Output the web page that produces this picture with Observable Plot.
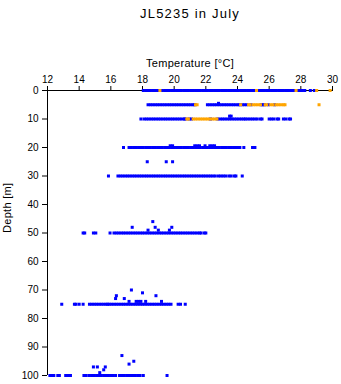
<!DOCTYPE html>
<html>
<head>
<meta charset="utf-8">
<script src="https://cdn.jsdelivr.net/npm/d3@7"></script>
<script src="https://cdn.jsdelivr.net/npm/@observablehq/plot@0.6"></script>
<style>
  html, body { margin: 0; padding: 0; background: #fff; }
  svg { display: block; }
</style>
</head>
<body>
<div id="chart"></div>
<script>
const title = "JL5235 in July";
const xLabel = "Temperature [°C]";
const yLabel = "Depth [m]";
const xTicks = [12, 14, 16, 18, 20, 22, 24, 26, 28, 30];
const yTicks = [0, 10, 20, 30, 40, 50, 60, 70, 80, 90, 100];

// Blue profiles: temperatures observed at each standard depth
const blue0 = [18.05,18.2,18.35,18.5,18.65,18.8,18.95,19.1,19.25,19.4,19.55,19.7,19.85,20.0,20.15,20.3,20.45,20.6,20.75,20.9,21.05,21.2,21.35,21.5,21.65,21.8,21.95,22.1,22.25,22.4,22.55,22.7,22.85,23.0,23.15,23.3,23.45,23.6,23.75,23.9,24.05,24.2,24.35,24.5,24.65,24.8,24.95,25.1,25.25,25.4,25.55,25.7,25.85,26.0,26.15,26.3,26.45,26.6,26.75,26.9,27.05,27.2,27.35,27.5,27.65,27.8,27.95,28.1,28.25,28.6,28.85];
const blue5 = [18.35,18.5,18.65,18.8,18.95,19.1,19.25,19.4,19.55,19.7,19.85,20.0,20.15,20.3,20.45,20.6,20.75,20.9,21.05,21.2,21.3,22.1,22.25,22.4,22.55,22.7,22.85,23.0,23.15,23.3,23.45,23.6,23.75,23.9,24.05,24.15,24.3,24.45,24.6,24.85,25.5,25.6,25.7,25.95,26.35];
const blue10 = [17.9,18.1,18.25,18.4,18.55,18.7,18.85,19.0,19.15,19.3,19.45,19.6,19.75,19.9,20.05,20.2,20.35,20.5,20.65,20.7,20.95,21.1,22.3,22.75,22.9,23.05,23.2,23.35,23.5,23.65,23.8,23.95,24.1,24.25,24.4,24.5,24.65,24.8,24.95,25.1,25.25,25.45,25.55,26.0,26.15,26.3,26.5,26.6,26.9,27.05,27.25,27.35];
const blue20 = [16.8,17.15,17.3,17.45,17.6,17.75,17.9,18.05,18.2,18.35,18.5,18.65,18.8,18.95,19.1,19.25,19.4,19.55,19.7,19.85,20.0,20.15,20.3,20.45,20.6,20.75,20.9,21.05,21.2,21.35,21.5,21.65,21.8,21.95,22.1,22.25,22.4,22.55,22.7,22.85,23.0,23.15,23.3,23.45,23.6,23.75,23.9,24.05,24.15,24.4,24.95,25.1];
const blue25 = [18.3,19.5,19.9];
const blue30 = [15.85,16.45,16.6,16.75,16.9,17.05,17.2,17.35,17.5,17.65,17.8,17.95,18.1,18.25,18.4,18.55,18.7,18.85,19.0,19.15,19.3,19.45,19.6,19.75,19.9,20.05,20.2,20.35,20.5,20.65,20.8,20.95,21.1,21.25,21.4,21.55,21.7,21.85,22.0,22.15,22.3,22.45,22.6,22.8,22.95,23.1,23.25,23.45,23.6,23.8,23.9,24.3];
const blue50 = [14.25,14.35,14.9,15.05,15.95,16.2,16.35,16.5,16.65,16.8,16.95,17.1,17.25,17.4,17.55,17.7,17.85,18.0,18.15,18.3,18.45,18.6,18.75,18.9,19.05,19.2,19.35,19.5,19.65,19.8,19.95,20.1,20.25,20.4,20.55,20.7,20.85,21.0,21.15,21.3,21.45,21.6,21.7,21.9,22.0];
const blue75 = [12.9,13.7,13.8,14.0,14.25,14.65,14.8,14.95,15.1,15.25,15.4,15.55,15.7,15.8,15.9,16.05,16.2,16.35,16.5,16.65,16.8,16.95,17.1,17.25,17.4,17.55,17.7,17.85,18.0,18.15,18.3,18.45,18.6,18.75,18.9,19.05,19.2,19.35,19.5,19.65,19.8,20.25,20.4,20.7];
const blue100 = [12.15,12.3,12.4,12.65,12.75,13.15,13.3,13.45,14.3,14.45,14.65,14.8,14.95,15.1,15.25,15.4,15.55,15.7,15.85,16.0,16.15,16.3,16.55,16.7,16.85,17.0,17.15,17.25,17.4,17.55,17.7,17.85,18.05,19.55];
// Blue scattered points off the standard depths: [depth, temperature]
const blueExtra = [[4.5,22.8],[9,23.5],[9,23.6],[19.4,19.75],[19.4,19.9],[19.4,21.3],[19.4,21.45],[19.4,21.6],[19.4,21.95],[19.4,22.25],[19.4,22.4],[19.4,22.55],
  [48,17.35],[46,18.65],[48,18.8],[49,18.35],[49,19.0],[49,19.7],[48,19.85],
  [72,16.35],[73,16.3],[73,16.85],[70,17.3],[74,17.15],[74,17.6],[74,17.75],[74,17.9],[71,18.0],[74,18.2],[72,18.85],[74,19.2],
  [93,16.7],[96,17.15],[95,17.45],[97,14.9],[97,15.15],[99,15.3],[98,15.55],[97,15.65]];

// Orange profile
const orange0 = [19.1,25.2,27.7,29.0,29.85];
const orange5 = [21.35,21.45,24.2,24.7,24.8,25.0,25.15,25.3,25.45,25.75,25.85,26.1,26.25,26.45,26.6,26.75,26.9,27.0,29.15];
const orange10 = [20.8,20.9,21.2,21.35,21.5,21.65,21.8,21.95,22.1,22.25,22.4,22.55,22.7];

const rows = (d, temps) => temps.map(t => ({d, t}));
const blueData = [
  ...rows(0, blue0), ...rows(5, blue5), ...rows(10, blue10), ...rows(20, blue20),
  ...rows(25, blue25), ...rows(30, blue30), ...rows(50, blue50), ...rows(75, blue75),
  ...rows(100, blue100), ...blueExtra.map(([d, t]) => ({d, t}))
];
const orangeData = [...rows(0, orange0), ...rows(5, orange5), ...rows(10, orange10)];

const font = "'Liberation Sans', Arial, Helvetica, sans-serif";

const chart = Plot.plot({
  width: 341,
  height: 384,
  marginTop: 90,
  marginLeft: 47,
  marginRight: 9,
  marginBottom: 9,
  style: {fontFamily: font, fontSize: "10px", background: "#fff", color: "#000"},
  x: {domain: [12, 30]},
  y: {domain: [0, 100], reverse: true},
  marks: [
    Plot.axisX({anchor: "top", ticks: xTicks, tickSize: 5, tickPadding: 3, label: null, fontSize: 10, strokeWidth: 1}),
    Plot.axisY({anchor: "left", ticks: yTicks, tickSize: 5, tickPadding: 4, label: null, fontSize: 10, strokeWidth: 1}),
    Plot.ruleY([0], {stroke: "#000"}),
    Plot.ruleX([12], {stroke: "#000"}),
    Plot.dot(blueData, {x: "t", y: "d", symbol: "square", r: 1.7, fill: "#0000ff", stroke: "none"}),
    Plot.dot(orangeData, {x: "t", y: "d", symbol: "square", r: 1.7, fill: "#ffa500", stroke: "none"}),
    Plot.text([title], {frameAnchor: "top", dy: -82, fontSize: 13, fill: "#000", style: {letterSpacing: "1.2px"}}),
    Plot.text([xLabel], {frameAnchor: "top", dy: -31, fontSize: 11, fill: "#000"}),
    Plot.text([yLabel], {frameAnchor: "left", dx: -40, rotate: -90, fontSize: 11, fill: "#000"})
  ]
});
chart.querySelectorAll("text").forEach(t => {
  if (t.textContent === title) t.setAttribute("letter-spacing", "1.2");
  if (t.textContent === xLabel || t.textContent === yLabel) t.setAttribute("letter-spacing", "0.3");
});
document.getElementById("chart").appendChild(chart);
</script>
</body>
</html>
